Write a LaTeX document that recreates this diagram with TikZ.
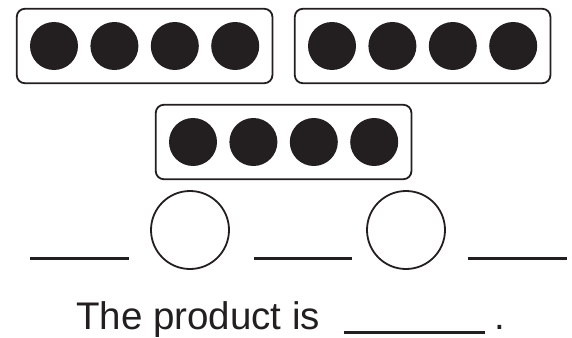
\documentclass[tikz,border=0pt]{standalone}
\usepackage{fontspec}
\setmainfont{Liberation Sans}
\usepackage{xcolor}
\usepackage{tikz}
\usetikzlibrary{positioning,fit}
\definecolor{ink}{HTML}{231F20}
\tikzset{
  dot/.style={circle, fill=ink, minimum size=48pt, inner sep=0pt},
  group/.style={draw=ink, rounded corners=8pt, line width=1.8pt, inner sep=13pt},
  slot/.style={circle, draw=ink, line width=1.8pt, minimum size=78pt, inner sep=0pt},
  blank/.style={draw=ink, line width=3pt},
  label/.style={inner sep=0pt, font=\fontsize{38.5}{46}\selectfont, text=ink}
}
\begin{document}
\begin{tikzpicture}[x=1pt, y=-1pt, node distance=12pt]
  \useasboundingbox (0,0) rectangle (572,337);
  % first row of dots
  \node[dot] (a1) at (54,46) {};
  \node[dot, right=of a1] (a2) {};
  \node[dot, right=of a2] (a3) {};
  \node[dot, right=of a3] (a4) {};
  \node[group, fit=(a1) (a4)] (ga) {};
  \node[dot] (b1) at (332,46) {};
  \node[dot, right=of b1] (b2) {};
  \node[dot, right=of b2] (b3) {};
  \node[dot, right=of b3] (b4) {};
  \node[group, fit=(b1) (b4)] (gb) {};
  % second row
  \node[dot] (c1) at (193,142) {};
  \node[dot, right=of c1] (c2) {};
  \node[dot, right=of c2] (c3) {};
  \node[dot, right=of c3] (c4) {};
  \node[group, fit=(c1) (c4)] (gc) {};
  % number sentence
  \node[slot] (s1) at (190,230) {};
  \node[slot] (s2) at (406,230) {};
  \coordinate (l1) at (30,258);
  \coordinate (l2) at (254,258);
  \coordinate (l3) at (468,258);
  \draw[blank] (l1) -- ++(99,0);
  \draw[blank] (l2) -- ++(98,0);
  \draw[blank] (l3) -- ++(99,0);
  % answer line
  \node[label, anchor=base west] (txt) at (76,329) {The product is};
  \node[label, anchor=base] (stop) at (500,329) {.};
  \coordinate (ans) at (344,332);
  \draw[blank] (ans) -- ++(141,0);
\end{tikzpicture}
\end{document}
